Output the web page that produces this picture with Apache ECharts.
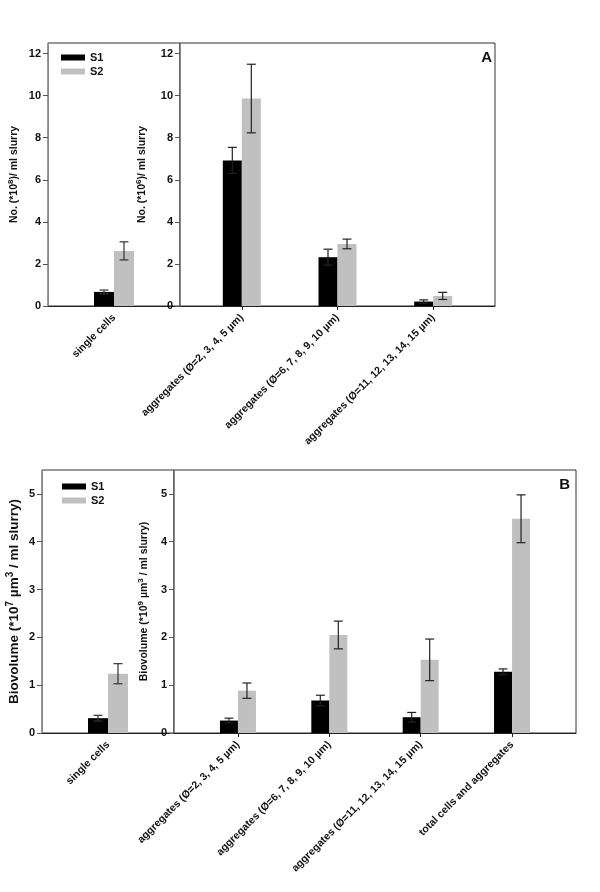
<!DOCTYPE html>
<html>
<head>
<meta charset="utf-8">
<script src="https://cdn.jsdelivr.net/npm/echarts@6/dist/echarts.min.js"></script>
<style>html,body{margin:0;padding:0;background:#fff}#c{width:600px;height:892px}</style>
</head>
<body>
<div id="c"></div>
<script>
// ---------- data ----------
const catsSingle = ['single cells'];
const catsAggA = ['aggregates (Ø=2, 3, 4, 5 µm)', 'aggregates (Ø=6, 7, 8, 9, 10 µm)', 'aggregates (Ø=11, 12, 13, 14, 15 µm)'];
const catsAggB = ['aggregates (Ø=2, 3, 4, 5 µm)', 'aggregates (Ø=6, 7, 8, 9, 10 µm)', 'aggregates (Ø=11, 12, 13, 14, 15 µm)', 'total cells and aggregates'];

// Panel A: numbers
const numSingleS1 = [0.67], numSingleS1Err = [0.09];
const numSingleS2 = [2.62], numSingleS2Err = [0.43];
const numAggS1 = [6.92, 2.32, 0.21], numAggS1Err = [0.62, 0.38, 0.08];
const numAggS2 = [9.86, 2.95, 0.48], numAggS2Err = [1.63, 0.23, 0.17];

// Panel B: biovolume
const bioSingleS1 = [0.31], bioSingleS1Err = [0.06];
const bioSingleS2 = [1.24], bioSingleS2Err = [0.21];
const bioAggS1 = [0.26, 0.68, 0.33, 1.28], bioAggS1Err = [0.05, 0.11, 0.10, 0.06];
const bioAggS2 = [0.885, 2.05, 1.53, 4.48], bioAggS2Err = [0.16, 0.29, 0.435, 0.50];

const yTicksA = [0, 2, 4, 6, 8, 10, 12];
const yTicksB = [0, 1, 2, 3, 4, 5];

// ---------- styling ----------
const FF = 'Liberation Sans, Arial, sans-serif';
const C1 = '#000000', C2 = '#c0c0c0';
const TXT = '#111111';

const chart = echarts.init(document.getElementById('c'), null, {renderer: 'canvas'});

const grids = [
  {left: 48, top: 43, width: 132, height: 263},
  {left: 180, top: 43, width: 315, height: 263},
  {left: 42, top: 470, width: 132, height: 263},
  {left: 174, top: 470, width: 402, height: 263}
].map(g => Object.assign({show: true, borderColor: '#333', borderWidth: 1, backgroundColor: 'transparent'}, g));

const tickLabelStyle = {fontFamily: FF, fontWeight: 'bold', fontSize: 11, color: TXT};
const catLabelStyle = {fontFamily: FF, fontWeight: 'bold', fontSize: 10.5, color: TXT};

function xCat(gi, cats) {
  return {
    type: 'category', gridIndex: gi, data: cats, boundaryGap: true,
    axisLine: {onZero: false, lineStyle: {color: '#222', width: 1}},
    axisTick: {alignWithLabel: true, length: 4, lineStyle: {color: '#222'}},
    axisLabel: Object.assign({rotate: 45, margin: 10, interval: 0}, catLabelStyle),
    splitLine: {show: false}
  };
}
function xVal(gi, cats, pad) {
  const idx = cats.map((c, i) => i);
  return {
    type: 'value', gridIndex: gi, min: -pad, max: cats.length - 1 + pad,
    axisLine: {show: true, onZero: false, lineStyle: {color: '#222', width: 1}},
    axisTick: {show: true, length: 4, customValues: idx, lineStyle: {color: '#222'}},
    axisLabel: Object.assign({rotate: 45, margin: 10, customValues: idx,
      formatter: v => cats[Math.round(v)] || ''}, catLabelStyle),
    splitLine: {show: false}
  };
}
function yAx(gi, max, ticks, name, nameGap, fs, sfs, lift) {
  return {
    type: 'value', gridIndex: gi, min: 0, max: max,
    axisLine: {show: true, onZero: false, lineStyle: {color: '#888', width: 1}},
    axisTick: {show: true, length: 5, customValues: ticks, lineStyle: {color: '#555'}},
    axisLabel: Object.assign({margin: 7, customValues: ticks}, tickLabelStyle),
    splitLine: {show: false},
    name: name, nameLocation: 'middle', nameRotate: 90, nameGap: nameGap,
    nameTextStyle: {
      fontFamily: FF, color: TXT,
      rich: {
        n: {fontFamily: FF, fontWeight: 'bold', fontSize: fs, color: TXT, verticalAlign: 'bottom'},
        s: {fontFamily: FF, fontWeight: 'bold', fontSize: sfs, color: TXT, verticalAlign: 'bottom', padding: [0, 0, lift, 0]}
      }
    }
  };
}

function bars(name, xi, vals, color, bw, isVal) {
  return {
    type: 'bar', name: name, xAxisIndex: xi, yAxisIndex: xi,
    barWidth: bw, barGap: '0%',
    itemStyle: {color: color},
    data: isVal ? vals.map((v, i) => [i, v]) : vals,
    z: 2
  };
}
function errs(xi, vals, es, offset, color) {
  return {
    type: 'custom', name: 'err', xAxisIndex: xi, yAxisIndex: xi, z: 5,
    data: vals.map((v, i) => [i, v, es[i]]),
    renderItem: function (params, api) {
      const x = api.value(0), y = api.value(1), e = api.value(2);
      const top = api.coord([x, y + e]);
      const bot = api.coord([x, y - e]);
      const cx = top[0] + offset;
      const hw = 4.5;
      const st = {stroke: color, lineWidth: 1.2};
      return {
        type: 'group',
        children: [
          {type: 'line', shape: {x1: cx, y1: top[1], x2: cx, y2: bot[1]}, style: st},
          {type: 'line', shape: {x1: cx - hw, y1: top[1], x2: cx + hw, y2: top[1]}, style: st},
          {type: 'line', shape: {x1: cx - hw, y1: bot[1], x2: cx + hw, y2: bot[1]}, style: st}
        ]
      };
    }
  };
}

const legendBase = {
  orient: 'vertical', data: ['S1', 'S2'], icon: 'rect',
  itemWidth: 24, itemHeight: 6, itemGap: 3,
  textStyle: {fontFamily: FF, fontWeight: 'bold', fontSize: 11, color: TXT},
  selectedMode: false
};

const option = {
  animation: false,
  backgroundColor: '#fff',
  title: [
    {text: 'A', right: 103, top: 45, textStyle: {fontFamily: FF, fontWeight: 'bold', fontSize: 15, color: '#111'}},
    {text: 'B', right: 25, top: 472, textStyle: {fontFamily: FF, fontWeight: 'bold', fontSize: 15, color: '#111'}}
  ],
  legend: [
    Object.assign({left: 56, top: 47}, legendBase),
    Object.assign({left: 57, top: 476}, legendBase)
  ],
  grid: grids,
  xAxis: [
    xCat(0, catsSingle),
    xVal(1, catsAggA, 0.646),
    xCat(2, catsSingle),
    xVal(3, catsAggB, 0.70)
  ],
  yAxis: [
    yAx(0, 12.5, yTicksA, '{n|No. (*10}{s|8}{n|)/ ml slurry}', 28, 10.5, 8, 5),
    yAx(1, 12.5, yTicksA, '{n|No. (*10}{s|6}{n|)/ ml slurry}', 32, 10.5, 8, 5),
    yAx(2, 5.5, yTicksB, '{n|Biovolume (*10}{s|7}{n| µm}{s|3}{n| / ml slurry)}', 21, 13.5, 10, 6),
    yAx(3, 5.5, yTicksB, '{n|Biovolume (*10}{s|9}{n| µm}{s|3}{n| / ml slurry)}', 24, 10.5, 8, 5)
  ],
  series: [
    bars('S1', 0, numSingleS1, C1, 20, false),
    bars('S2', 0, numSingleS2, C2, 20, false),
    errs(0, numSingleS1, numSingleS1Err, -10, '#333'),
    errs(0, numSingleS2, numSingleS2Err, 10, '#333'),

    bars('S1', 1, numAggS1, C1, 19, true),
    bars('S2', 1, numAggS2, C2, 19, true),
    errs(1, numAggS1, numAggS1Err, -9.5, '#222'),
    errs(1, numAggS2, numAggS2Err, 9.5, '#222'),

    bars('S1', 2, bioSingleS1, C1, 20, false),
    bars('S2', 2, bioSingleS2, C2, 20, false),
    errs(2, bioSingleS1, bioSingleS1Err, -10, '#333'),
    errs(2, bioSingleS2, bioSingleS2Err, 10, '#333'),

    bars('S1', 3, bioAggS1, C1, 18, true),
    bars('S2', 3, bioAggS2, C2, 18, true),
    errs(3, bioAggS1, bioAggS1Err, -9, '#222'),
    errs(3, bioAggS2, bioAggS2Err, 9, '#222')
  ]
};
chart.setOption(option);
</script>
</body>
</html>
